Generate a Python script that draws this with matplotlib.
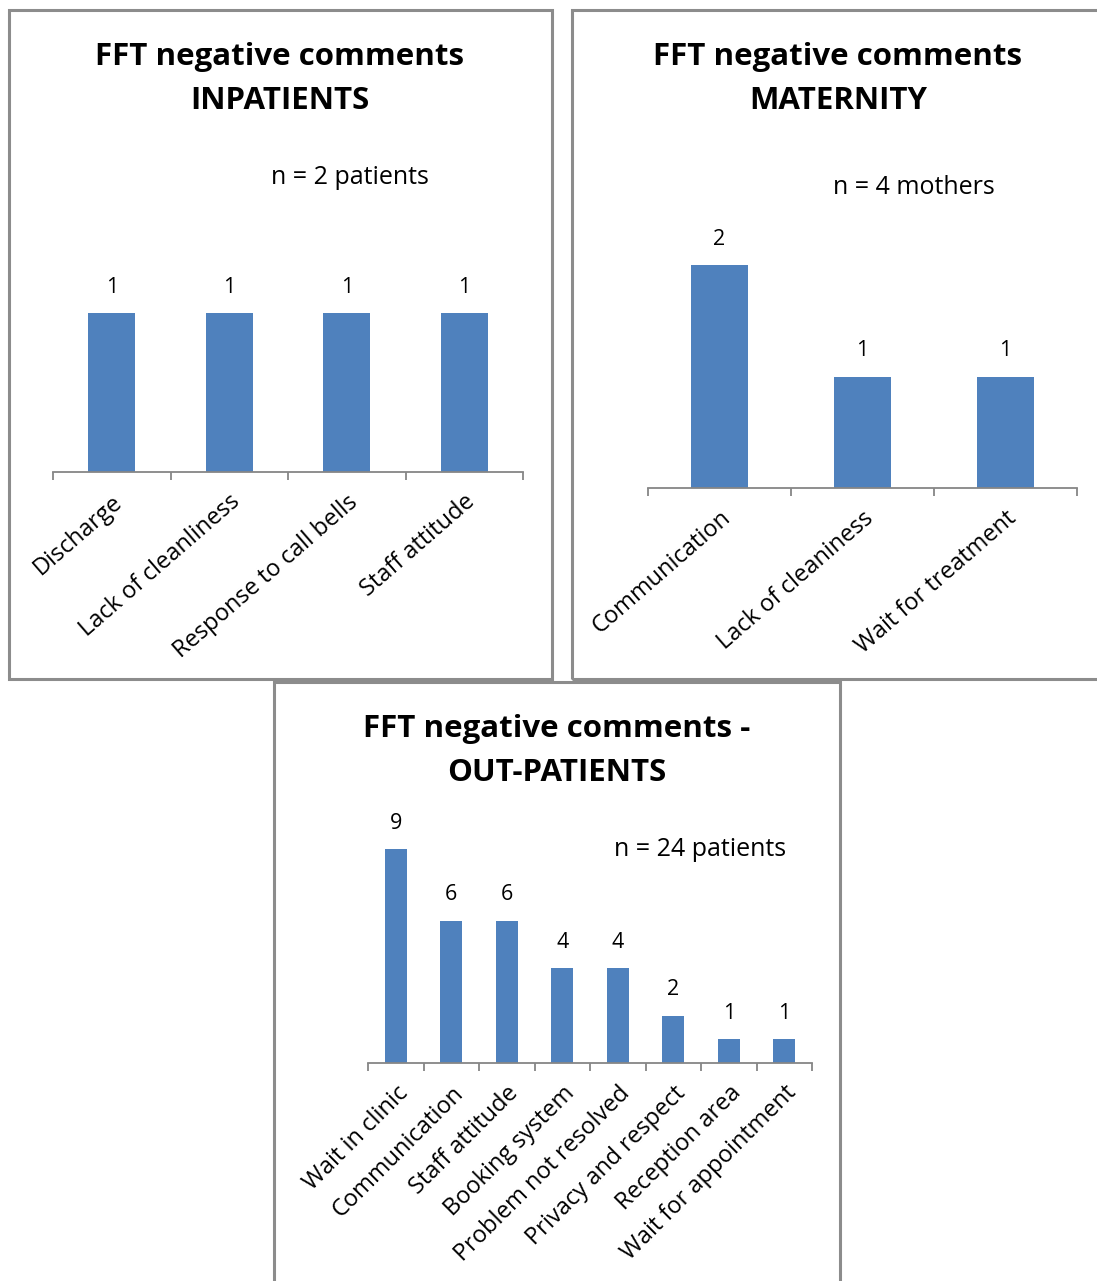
import matplotlib
matplotlib.use("Agg")
import matplotlib.pyplot as plt
from matplotlib.patches import Rectangle

plt.rcParams['font.family'] = ['Open Sans', 'DejaVu Sans']

W, H = 1097, 1281
DPI = 100

# Inpatients
inp_cats = ["Discharge", "Lack of cleanliness", "Response to call bells", "Staff attitude"]
inp_vals = [1, 1, 1, 1]

# Maternity
mat_cats = ["Communication", "Lack of cleaniness", "Wait for treatment"]
mat_vals = [2, 1, 1]

# Out-patients
out_cats = ["Wait in clinic", "Communication", "Staff attitude", "Booking system",
            "Problem not resolved", "Privacy and respect", "Reception area",
            "Wait for appointment"]
out_vals = [9, 6, 6, 4, 4, 2, 1, 1]

BAR = "#4F81BD"
AXIS = "#868686"
BORDER = "#8C8C8C"

fig = plt.figure(figsize=(W / DPI, H / DPI), dpi=DPI)


def px_axes(left, right, bottom, top):
    return fig.add_axes([left / W, 1 - bottom / H, (right - left) / W, (bottom - top) / H])


def box(x0, y0, x1, y1):
    fig.patches.append(Rectangle((x0 / W, 1 - y1 / H), (x1 - x0) / W, (y1 - y0) / H,
                                 transform=fig.transFigure, fill=False,
                                 edgecolor=BORDER, linewidth=2.2))


def bar_chart(ax, cats, vals, ymax, rot=41, label_size=17):
    n = len(cats)
    x = list(range(n))
    ax.bar(x, vals, width=0.4, color=BAR)
    ax.set_xlim(-0.5, n - 0.5)
    ax.set_ylim(0, ymax)
    for s in ("left", "right", "top"):
        ax.spines[s].set_visible(False)
    ax.spines["bottom"].set_color(AXIS)
    ax.spines["bottom"].set_linewidth(1.3)
    ax.set_yticks([])
    ax.set_xticks(x)
    ax.set_xticklabels(cats, rotation=rot, ha="right", va="top",
                       rotation_mode="anchor", fontsize=label_size)
    ax.tick_params(axis="x", which="major", length=0, pad=13)
    ax.set_xticks([i - 0.5 for i in range(n + 1)], minor=True)
    ax.tick_params(axis="x", which="minor", length=6, width=1.3, color=AXIS, direction="out")
    for xi, v in zip(x, vals):
        ax.annotate(str(v), (xi, v), xytext=(0, 18.5), textcoords="offset points",
                    ha="center", va="center", fontsize=15.5, annotation_clip=False)
    ax.patch.set_alpha(0)


# Panel borders
box(9, 10, 552, 679)
box(572, 10, 1110, 679)
box(274, 682, 840, 1300)

TITLE = dict(ha="center", va="center", fontsize=22.5, fontweight="bold", linespacing=1.62)
NOTE = dict(ha="center", va="center", fontsize=18)

# Inpatients
ax1 = px_axes(53, 523, 472, 273)
bar_chart(ax1, inp_cats, inp_vals, 1.25)
fig.text(280 / W, 1 - 79 / H, "FFT negative comments\nINPATIENTS", **TITLE)
fig.text(350 / W, 1 - 178 / H, "n = 2 patients", **NOTE)

# Maternity
ax2 = px_axes(648, 1077, 488, 243)
bar_chart(ax2, mat_cats, mat_vals, 2.2)
fig.text(838 / W, 1 - 79 / H, "FFT negative comments\nMATERNITY", **TITLE)
fig.text(914 / W, 1 - 188 / H, "n = 4 mothers", **NOTE)

# Out-patients
ax3 = px_axes(368, 812, 1063, 825.5)
bar_chart(ax3, out_cats, out_vals, 10, rot=45)
fig.text(557 / W, 1 - 751 / H, "FFT negative comments -\nOUT-PATIENTS", **TITLE)
fig.text(700 / W, 1 - 849 / H, "n = 24 patients", **NOTE)

fig.savefig("out.png", dpi=DPI)
